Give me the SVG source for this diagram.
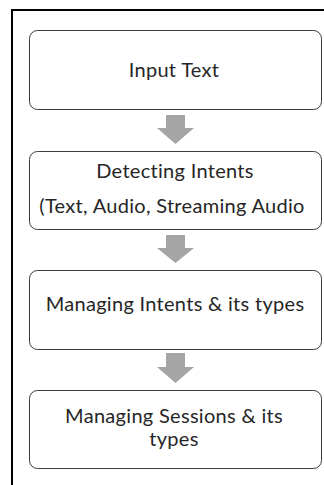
<svg xmlns="http://www.w3.org/2000/svg" width="324" height="485" viewBox="0 0 324 485">
<style>
.box{fill:#fff;stroke:#3a3a3a;stroke-width:1}
.t{font-family:Lato,"Open Sans",sans-serif;font-size:20px;letter-spacing:0.3px;fill:#262626;text-anchor:middle}
.arr{fill:#a5a5a5}
</style>
<rect width="324" height="485" fill="#fff"/>
<path d="M12 485V10H324" fill="none" stroke="#000" stroke-width="2"/>
<g id="n1"><rect class="box" x="29.5" y="30.5" width="292" height="79" rx="8"/><text class="t" x="174" y="77">Input Text</text></g>
<g id="n2"><rect class="box" x="29.5" y="151.5" width="292" height="78" rx="8"/><text class="t" x="175" y="178">Detecting Intents</text><text class="t" x="172" y="213">(Text, Audio, Streaming Audio</text></g>
<g id="n3"><rect class="box" x="29.5" y="270.5" width="292" height="79" rx="8"/><text class="t" x="175" y="311">Managing Intents &amp; its types</text></g>
<g id="n4"><rect class="box" x="29.5" y="390.5" width="292" height="78" rx="8"/><text class="t" x="174" y="423">Managing Sessions &amp; its</text><text class="t" x="174" y="446">types</text></g>
<g id="connectors">
<path class="arr" d="M166 115H185V128H194L175.5 144L157 128H166Z"/>
<path class="arr" d="M166 235H185V248H194L175.5 263L157 248H166Z"/>
<path class="arr" d="M166 353H185V367H194L175.5 383L157 367H166Z"/>
</g>
</svg>
